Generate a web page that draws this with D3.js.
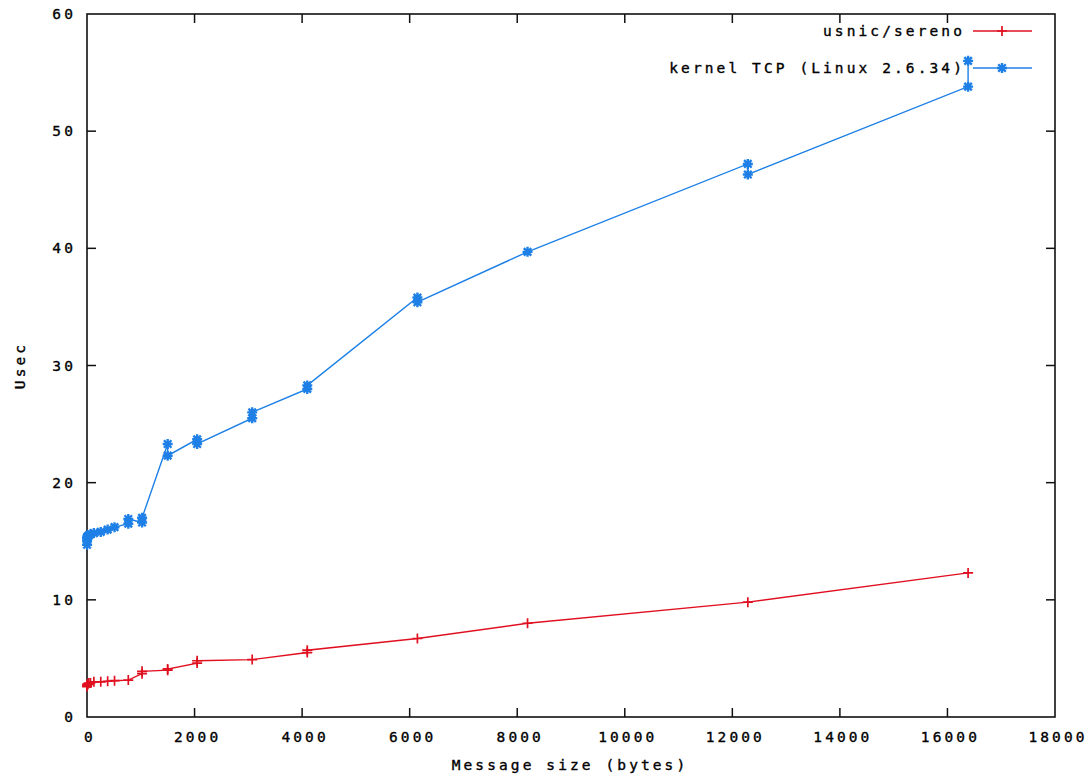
<!DOCTYPE html>
<html>
<head>
<meta charset="utf-8">
<script src="https://d3js.org/d3.v7.min.js"></script>
<style>
  body { margin: 0; background: #fff; }
  text { font-family: "DejaVu Sans Mono", monospace; font-size: 14.5px; letter-spacing: 3.1px; fill: #000; stroke: #000; stroke-width: 0.35px; }
</style>
</head>
<body>
<script>
const width  = 1091,
      height = 776,
      margin = { left: 87, right: 36, top: 14, bottom: 59 };

// usnic/sereno latency (usec) by message size (bytes)
const usnicSize = [1, 2, 4, 8, 16, 32, 64, 128, 256, 384, 512, 768, 1024, 1024, 1500, 1500, 2048, 2048, 3072, 4096, 4096, 6144, 8192, 12288, 16384];
const usnicUsec = [2.6, 2.7, 2.7, 2.8, 2.8, 2.9, 2.9, 3.0, 3.0, 3.05, 3.1, 3.15, 3.7, 3.9, 4.0, 4.1, 4.6, 4.8, 4.9, 5.5, 5.7, 6.7, 8.0, 9.8, 12.3];

// kernel TCP latency (usec), two runs at several sizes
const tcpSize = [1, 1, 2, 4, 8, 16, 32, 64, 128, 256, 384, 512, 768, 768, 1024, 1024, 1500, 1500, 2048, 2048, 3072, 3072, 4096, 4096, 6144, 6144, 8192, 12288, 12288, 16384, 16384];
const tcpUsec = [14.7, 15.3, 15.0, 15.2, 15.4, 15.4, 15.5, 15.6, 15.7, 15.8, 16.0, 16.2, 16.5, 16.9, 16.6, 17.0, 23.3, 22.3, 23.7, 23.3, 25.5, 26.0, 28.0, 28.3, 35.8, 35.4, 39.7, 47.2, 46.3, 53.8, 56.0];

const xTicks = [0, 2000, 4000, 6000, 8000, 10000, 12000, 14000, 16000, 18000];
const yTicks = [0, 10, 20, 30, 40, 50, 60];

const seriesNames = ['usnic/sereno', 'kernel TCP (Linux 2.6.34)'];
const colors = ['#e01020', '#1e80e6'];

const svg = d3.select('body').append('svg')
  .attr('width', width)
  .attr('height', height);

const x = d3.scaleLinear().domain([0, 18000]).range([margin.left, width - margin.right]);
const y = d3.scaleLinear().domain([0, 60]).range([height - margin.bottom, margin.top]);

const tickLen = 9;

// frame
svg.append('rect')
  .attr('x', x(0)).attr('y', y(60))
  .attr('width', x(18000) - x(0)).attr('height', y(0) - y(60))
  .attr('fill', 'none').attr('stroke', '#111').attr('stroke-width', 1.6);

// inward ticks, mirrored
const ticks = svg.append('g').attr('stroke', '#111').attr('stroke-width', 1.5);
for (const t of xTicks.slice(1, -1)) {
  ticks.append('line').attr('x1', x(t)).attr('x2', x(t)).attr('y1', y(0)).attr('y2', y(0) - tickLen);
  ticks.append('line').attr('x1', x(t)).attr('x2', x(t)).attr('y1', y(60)).attr('y2', y(60) + tickLen);
}
for (const t of yTicks.slice(1, -1)) {
  ticks.append('line').attr('x1', x(0)).attr('x2', x(0) + tickLen).attr('y1', y(t)).attr('y2', y(t));
  ticks.append('line').attr('x1', x(18000)).attr('x2', x(18000) - tickLen).attr('y1', y(t)).attr('y2', y(t));
}

// tick labels
svg.append('g').selectAll('text').data(xTicks).join('text')
  .attr('x', d => x(d) + 3).attr('y', y(0) + 20)
  .attr('dy', '0.35em').attr('text-anchor', 'middle')
  .text(d => d);
svg.append('g').selectAll('text').data(yTicks).join('text')
  .attr('x', x(0) - 11).attr('y', d => y(d))
  .attr('dy', '0.35em').attr('text-anchor', 'end')
  .text(d => d);

// axis titles
svg.append('text')
  .attr('x', 570).attr('y', 765).attr('dy', '0.35em')
  .attr('text-anchor', 'middle')
  .text('Message size (bytes)');
svg.append('text')
  .attr('transform', `translate(20,${(y(0) + y(60)) / 2}) rotate(-90)`)
  .attr('dy', '0.35em').attr('text-anchor', 'middle')
  .text('Usec');

// markers
const plus = (g, cx, cy, s, c) => {
  g.append('path')
    .attr('d', `M${cx - s},${cy}H${cx + s}M${cx},${cy - s}V${cy + s}`)
    .attr('stroke', c).attr('stroke-width', 1.7).attr('fill', 'none');
};
const star = (g, cx, cy, s, c) => {
  const d = s * 0.75;
  g.append('path')
    .attr('d', `M${cx - s},${cy}H${cx + s}M${cx},${cy - s}V${cy + s}M${cx - d},${cy - d}L${cx + d},${cy + d}M${cx - d},${cy + d}L${cx + d},${cy - d}`)
    .attr('stroke', c).attr('stroke-width', 2.4).attr('fill', 'none');
};

const line = d3.line().x(d => x(d[0])).y(d => y(d[1]));

const drawSeries = (sizes, vals, color, marker) => {
  const pts = sizes.map((s, i) => [s, vals[i]]);
  const g = svg.append('g');
  g.append('path').datum(pts)
    .attr('d', line)
    .attr('fill', 'none').attr('stroke', color).attr('stroke-width', 1.4);
  for (const p of pts) marker(g, x(p[0]), y(p[1]), 5, color);
};

drawSeries(usnicSize, usnicUsec, colors[0], plus);
drawSeries(tcpSize, tcpUsec, colors[1], star);

// legend
const legend = svg.append('g');
seriesNames.forEach((name, i) => {
  const ly = 31 + i * 37;
  legend.append('text')
    .attr('x', 965).attr('y', ly).attr('dy', '0.35em')
    .attr('text-anchor', 'end')
    .text(name);
  legend.append('line')
    .attr('x1', 973).attr('x2', 1032).attr('y1', ly).attr('y2', ly)
    .attr('stroke', colors[i]).attr('stroke-width', 1.4);
  (i === 0 ? plus : star)(legend, 1002, ly, 5, colors[i]);
});
</script>
</body>
</html>
